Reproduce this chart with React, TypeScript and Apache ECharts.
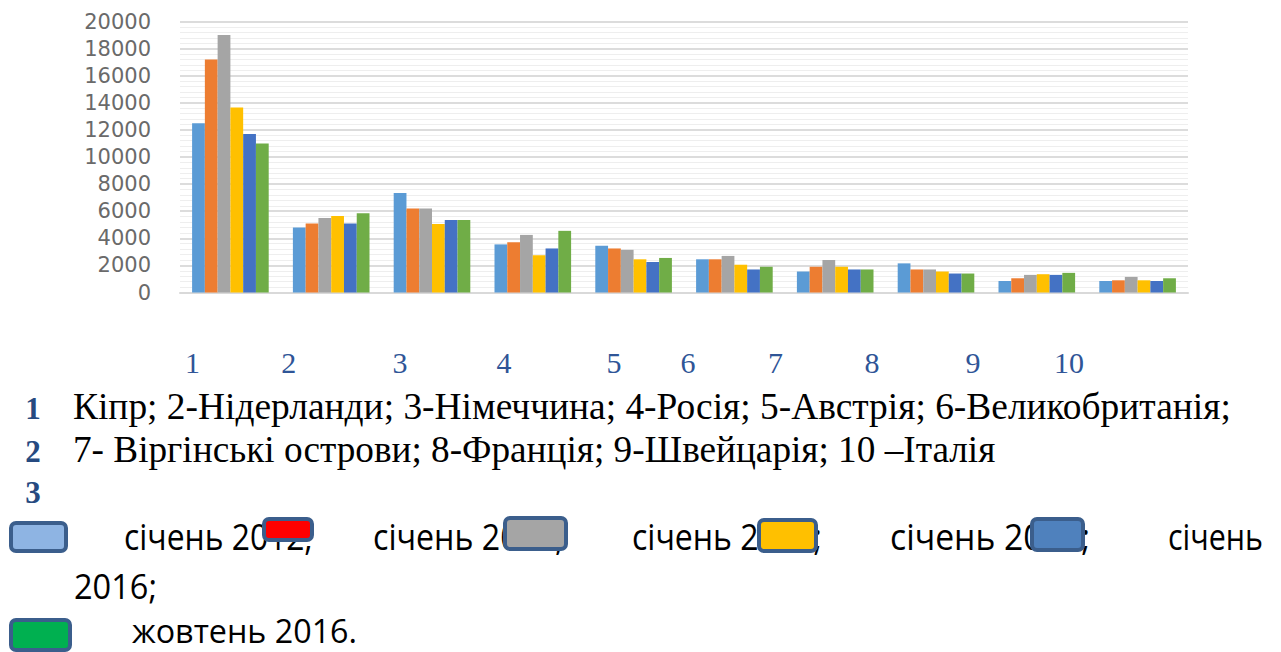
import React, { useEffect, useRef } from "react";
import * as echarts from "echarts";

// ---------- data ----------
const categories = ["1", "2", "3", "4", "5", "6", "7", "8", "9", "10"];
const seriesNames = ["січень 2012", "січень 2013", "січень 2014", "січень 2015", "січень 2016", "жовтень 2016"];
const jan2012 = [12500, 4800, 7350, 3550, 3450, 2450, 1550, 2150, 850, 850];
const jan2013 = [17200, 5100, 6200, 3700, 3250, 2450, 1900, 1700, 1050, 900];
const jan2014 = [19000, 5500, 6200, 4250, 3150, 2700, 2400, 1700, 1300, 1150];
const jan2015 = [13650, 5650, 5050, 2750, 2450, 2050, 1900, 1550, 1350, 900];
const jan2016 = [11700, 5100, 5350, 3250, 2250, 1700, 1700, 1400, 1300, 850];
const oct2016 = [11000, 5850, 5350, 4550, 2550, 1900, 1700, 1400, 1450, 1050];
const seriesValues = [jan2012, jan2013, jan2014, jan2015, jan2016, oct2016];
const barColors = ["#5B9BD5", "#ED7D31", "#A5A5A5", "#FFC000", "#4472C4", "#70AD47"];
const yMin = 0;
const yMax = 20000;
const yInterval = 2000;

const lineNumbers = ["1", "2", "3"];
const captionLine1 = "Кіпр; 2-Нідерланди; 3-Німеччина; 4-Росія; 5-Австрія; 6-Великобританія;";
const captionLine2 = "7- Віргінські острови; 8-Франція; 9-Швейцарія; 10 –Італія";
const legendTexts = ["січень 2012;", "січень 2013;", "січень 2014;", "січень 2015;", "січень"];
const legendWrapText = "2016;";
const legendLastText = "жовтень 2016.";
const legendBoxColors = ["#8EB4E3", "#FF0000", "#A5A5A5", "#FFC000", "#4F81BD", "#00B050"];

// ---------- layout ----------
const W = 1281;
const H = 652;
const numberRowX = [192.5, 288.7, 400, 504, 614, 688, 775.6, 872, 973, 1069];
const numberRowBaseline = 373;
const lineNumberBaselines = [419, 462, 503];
const legendTextSpans: [number, number][] = [
  [124, 313],
  [373, 564],
  [632, 822],
  [890, 1090],
  [1168, 1263],
];
const legendBoxes: [number, number, number, number][] = [
  [11, 523, 55, 28],
  [264, 519, 48, 21],
  [505, 518, 61, 31],
  [759, 520, 57, 31],
  [1032, 519, 51, 31],
  [11, 620, 59, 30],
];

const canvas = typeof document !== "undefined" ? document.createElement("canvas") : null;
function measure(text: string, font: string): number {
  const ctx = canvas!.getContext("2d")!;
  ctx.font = font;
  return ctx.measureText(text).width || 1;
}

function fontStr(size: number, family: string, weight: string) {
  return `${weight} ${size}px "${family}"`;
}

function fitText(
  text: string,
  left: number,
  right: number,
  baseline: number,
  size: number,
  family: string,
  color: string,
  k: number,
  weight: string = "normal"
) {
  const font = fontStr(size, family, weight);
  const w = measure(text, font);
  return {
    type: "text",
    x: left,
    y: baseline - k * size,
    scaleX: (right - left) / w,
    z: 10,
    style: {
      text,
      font,
      lineHeight: size,
      fill: color,
      align: "left",
      verticalAlign: "middle",
    },
  };
}

function centerText(text: string, cx: number, baseline: number, size: number, family: string, color: string, k: number, weight = "normal") {
  return {
    type: "text",
    x: cx,
    y: baseline - k * size,
    z: 10,
    style: {
      text,
      font: fontStr(size, family, weight),
      lineHeight: size,
      fill: color,
      align: "center",
      verticalAlign: "middle",
    },
  };
}

export default function App() {
  const ref = useRef<HTMLDivElement>(null);

  useEffect(() => {
    if (!ref.current) return;
    const chart = echarts.init(ref.current, undefined, { renderer: "svg" });

    const serif = "Liberation Serif";
    const sans = "Open Sans";
    const graphics: any[] = [];

    categories.forEach((c, i) => {
      graphics.push(centerText(c, numberRowX[i], numberRowBaseline, 30, serif, "#2F5597", 0.34));
    });
    lineNumbers.forEach((n, i) => {
      graphics.push(centerText(n, 33, lineNumberBaselines[i], 31, serif, "#264A80", 0.34, "bold"));
    });
    graphics.push(fitText(captionLine1, 73, 1231, 419, 38, serif, "#000000", 0.34));
    graphics.push(fitText(captionLine2, 73, 996, 462, 38, serif, "#000000", 0.34));

    legendTexts.forEach((t, i) => {
      const [l, r] = legendTextSpans[i];
      graphics.push(fitText(t, l, r, 550, 36, sans, "#000000", 0.39));
    });
    graphics.push(fitText(legendWrapText, 74, 157, 599, 34, sans, "#000000", 0.39));
    graphics.push(fitText(legendLastText, 132, 357, 643, 33, sans, "#000000", 0.39));

    legendBoxes.forEach(([x, y, w, h], i) => {
      graphics.push({
        type: "rect",
        z: 20,
        shape: { x, y, width: w, height: h, r: 5 },
        style: { fill: legendBoxColors[i], stroke: "#3B5E8C", lineWidth: 4 },
      });
    });

    chart.setOption({
      animation: false,
      backgroundColor: "#ffffff",
      grid: { left: 180, right: 93, top: 21.5, bottom: 359.5, containLabel: false },
      xAxis: {
        type: "category",
        data: categories,
        axisLine: { show: true, lineStyle: { color: "#d9d9d9", width: 2 } },
        axisTick: { show: false },
        axisLabel: { show: false },
        splitLine: { show: false },
      },
      yAxis: {
        type: "value",
        min: yMin,
        max: yMax,
        interval: yInterval,
        axisLine: { show: false },
        axisTick: { show: false },
        axisLabel: {
          margin: 29,
          color: "#6a6a6a",
          fontSize: 21,
          fontFamily: "DejaVu Sans",
          formatter: (v: number) => String(v),
        },
        splitLine: { show: true, lineStyle: { color: "#dcdcdc", width: 2 } },
        minorTick: { show: false, splitNumber: 5 },
        minorSplitLine: { show: true, lineStyle: { color: "#eeeeee", width: 1 } },
      },
      series: seriesNames.map((name, i) => ({
        name,
        type: "bar",
        data: seriesValues[i],
        barGap: "0%",
        barCategoryGap: "24%",
        itemStyle: { color: barColors[i] },
      })),
      graphic: graphics,
    });

    return () => chart.dispose();
  }, []);

  return (
    <div
      ref={ref}
      style={{ position: "absolute", left: 0, top: 0, width: W, height: H, background: "#fff" }}
    />
  );
}
